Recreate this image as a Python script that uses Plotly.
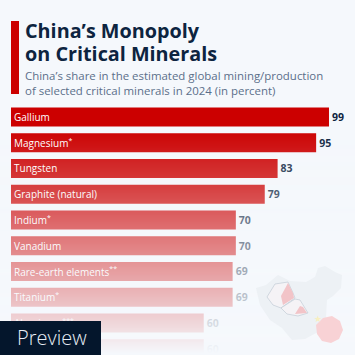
import plotly.graph_objects as go

# The tenth bar's label is hidden behind the Preview box in the reference, so it is left blank.
categories = ["Gallium", "Magnesium<sup>*</sup>", "Tungsten", "Graphite (natural)", "Indium<sup>*</sup>",
              "Vanadium", "Rare-earth elements<sup>**</sup>", "Titanium<sup>*</sup>", "Aluminum<sup>***</sup>", " "]
values = [99, 95, 83, 79, 70, 70, 69, 69, 60, 60]
title_lines = ["China’s Monopoly", "on Critical Minerals"]
subtitle_lines = ["China’s share in the estimated global mining/production",
                  "of selected critical minerals in 2024 (in percent)"]
BG = "#f5f8fc"; RED = "#cc0000"; NAVY = "#0d2440"; SLATE = "#5b6f8a"
FONT = "Open Sans"
W = H = 355

def px(x): return x / W
def py(y): return 1 - y / H

fig = go.Figure()
fig.add_trace(go.Bar(y=categories, x=values, orientation="h", marker=dict(color=RED, line=dict(width=0)),
                     text=[str(v) for v in values], textposition="outside", cliponaxis=False,
                     textfont=dict(family=FONT, size=10.5, color=NAVY, weight=700), hoverinfo="skip", width=0.74))
fig.add_trace(go.Bar(y=categories, x=values, orientation="h", marker=dict(color="rgba(0,0,0,0)", line=dict(width=0)),
                     text=categories, textposition="inside", insidetextanchor="start", textangle=0,
                     constraintext="none", cliponaxis=False,
                     textfont=dict(family=FONT, size=10, color="white"), hoverinfo="skip", width=0.74))

shapes = [dict(type="rect", xref="paper", yref="paper", x0=px(11), x1=px(19), y0=py(21), y1=py(94),
               fillcolor=RED, line_width=0, layer="below")]
# fade to background over the lower bars
for y in range(128, 355):
    a = min(1, max(0, (y - 128) / 225))
    shapes.append(dict(type="rect", xref="paper", yref="paper", x0=0, x1=1, y0=py(y), y1=py(y + 1),
                       fillcolor=f"rgba(245,248,252,{a:.3f})", line_width=0, layer="above"))

def path(pts):
    return "M" + " L".join(f"{px(x):.4f},{py(y):.4f}" for x, y in pts) + " Z"

def deco(pts, fill, line=None):
    shapes.append(dict(type="path", xref="paper", yref="paper", layer="above", fillcolor=fill,
                       line=dict(color=line, width=0.7) if line else dict(width=0), path=path(pts)))

# faint map silhouette
deco([(256, 288), (266, 285), (278, 275), (290, 281), (306, 282), (315, 277), (318, 268), (325, 266), (335, 272),
      (342, 275), (341, 288), (333, 296), (327, 300), (326, 318), (318, 332), (305, 339), (292, 340), (282, 328),
      (270, 320), (260, 305)], "#edf1f5")
# rocks
deco([(267, 297), (275, 284), (288, 282), (293, 293), (295, 298), (281, 308), (273, 305)], "#f5f3f6", "#c2cbd6")
deco([(288, 283), (293, 293), (294, 298), (283, 305), (281, 296)], "#f2c4c8")
deco([(281, 308), (295, 299), (300, 300), (308, 313), (298, 316), (287, 314)], "#f5f3f6", "#c2cbd6")
deco([(300, 306), (303, 307), (307, 313), (295, 314)], "#f2c4c8")
# flag
deco([(323, 318), (332, 316), (340, 321), (343, 330), (339, 339), (331, 343), (322, 341), (317, 334), (316, 325)],
     "#f8d2d5")
# preview box
shapes.append(dict(type="rect", xref="paper", yref="paper", x0=0, x1=px(101), y0=0, y1=py(321),
                   fillcolor="#04162c", line_width=0, layer="above"))

ann = []
def text(x, y, s, size, color, weight=400):
    ann.append(dict(text=s, xref="paper", yref="paper", x=px(x), y=py(y), xanchor="left", yanchor="middle",
                    showarrow=False, font=dict(family=FONT, size=size, color=color, weight=weight)))
for i, s in enumerate(title_lines):
    text(23, 30 + i * 23, s, 19.8, NAVY, 700)
for i, s in enumerate(subtitle_lines):
    text(23, 75.5 + i * 14.5, s, 11.45, SLATE)
text(15, 337.5, "Preview", 20, "#e8eef5", 300)
ann.append(dict(text="★", xref="paper", yref="paper", x=px(323.5), y=py(326), showarrow=False,
                font=dict(size=9, color="#f8efc0", family="DejaVu Sans")))

fig.update_layout(width=W, height=H, autosize=False, paper_bgcolor=BG, plot_bgcolor=BG, showlegend=False,
                  barmode="overlay", bargap=0.26,
                  margin=dict(l=0, r=0, t=0, b=0), shapes=shapes, annotations=ann,
                  xaxis=dict(domain=[px(11), 1], range=[0, (W - 11) / 3.212], visible=False, fixedrange=True),
                  yaxis=dict(domain=[0, py(104.1)], autorange=False, range=[(355 - 117) / 25.75, -0.5], visible=False,
                             fixedrange=True, categoryorder="array", categoryarray=categories))
fig.write_html("out.html", config=dict(displayModeBar=False),
               post_script="document.body.style.margin='0';document.body.style.overflow='hidden';")
